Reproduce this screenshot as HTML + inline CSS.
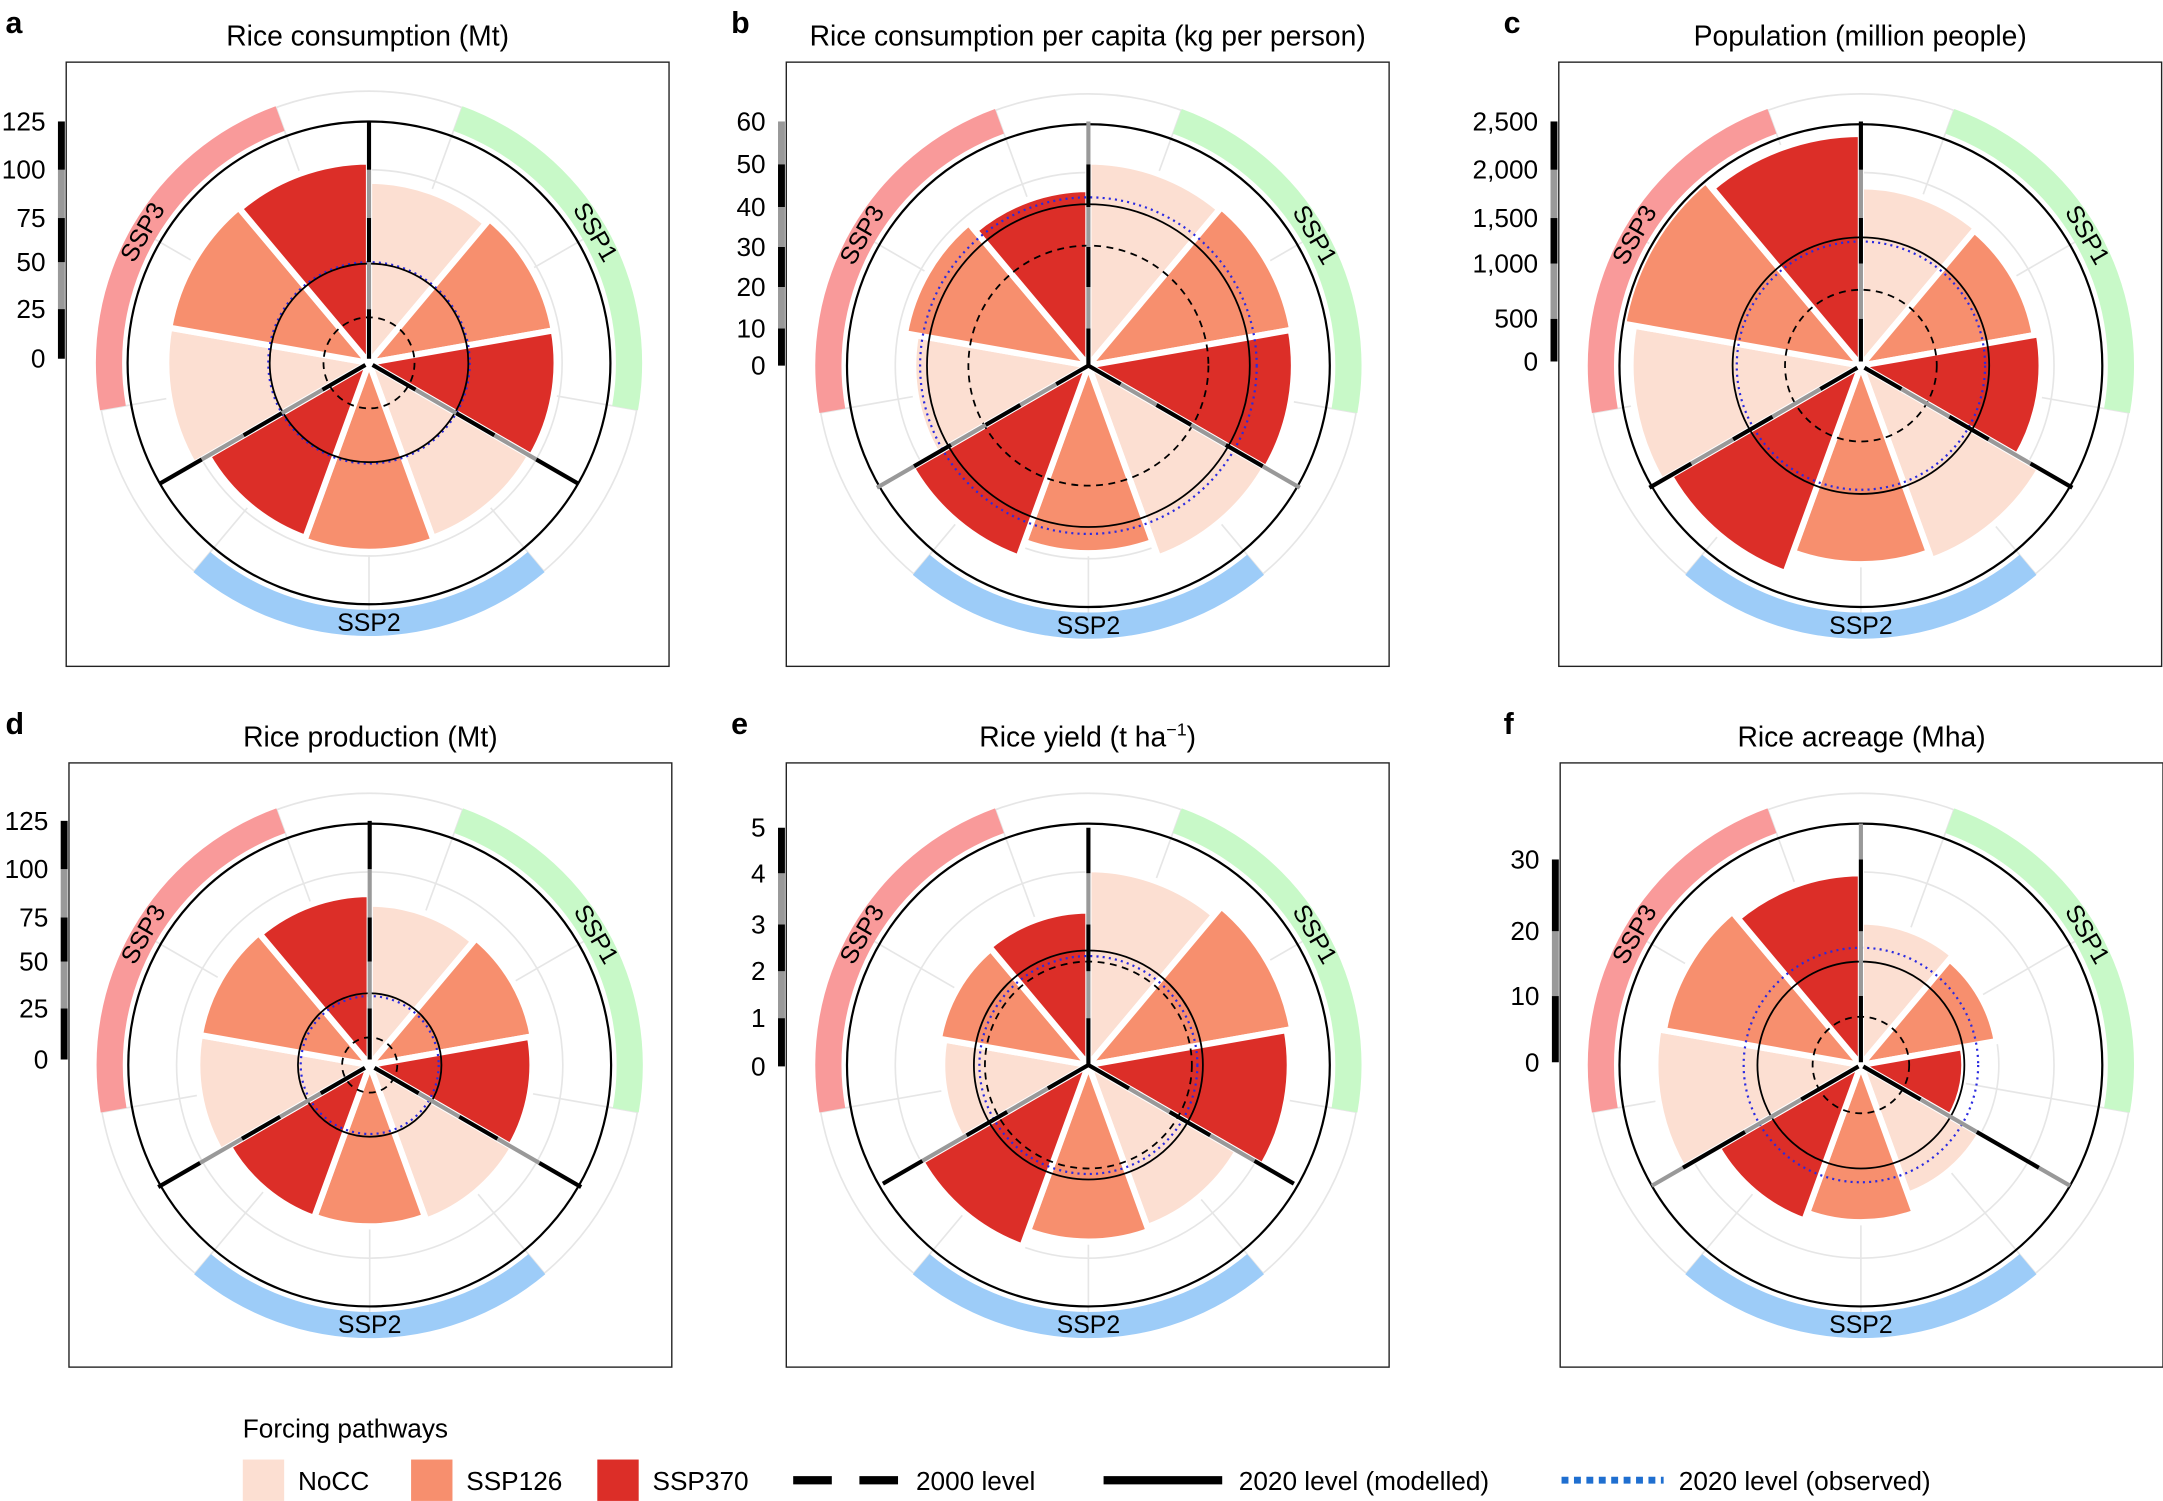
<!DOCTYPE html>
<html><head><meta charset="utf-8">
<style>
html,body{margin:0;padding:0;background:#fff;}
svg{display:block;font-family:"Liberation Sans",Arial,sans-serif;}
</style></head>
<body>
<svg id="s" width="2163" height="1501" viewBox="0 0 1568 1088" xmlns="http://www.w3.org/2000/svg"></svg>
<script>
const NS="http://www.w3.org/2000/svg";
const S=document.getElementById('s');
function el(tag,attrs,txt,parent){const e=document.createElementNS(NS,tag);for(const k in attrs)e.setAttribute(k,attrs[k]);if(txt!==undefined&&txt!==null)e.textContent=txt;(parent||S).appendChild(e);return e;}
function P(cx,cy,r,a){const t=a*Math.PI/180;return [cx+r*Math.sin(t),cy-r*Math.cos(t)];}
function sector(cx,cy,r,a1,a2){const p1=P(cx,cy,r,a1),p2=P(cx,cy,r,a2);return `M${cx},${cy}L${p1[0]},${p1[1]}A${r},${r} 0 0 1 ${p2[0]},${p2[1]}Z`;}
function ring(cx,cy,r1,r2,a1,a2){const a=P(cx,cy,r2,a1),b=P(cx,cy,r2,a2),c=P(cx,cy,r1,a2),d=P(cx,cy,r1,a1);return `M${a}A${r2},${r2} 0 0 1 ${b}L${c}A${r1},${r1} 0 0 0 ${d}Z`;}
const C=['#fcdfd2','#f78f6e','#dc2e28'];
const panels=[
 {L:'a',T:'Rice consumption (Mt)',bx:48,by:45,cx:267.5,cy:263,dash:33,sol:72,dot:73,
  bars:[132,136,136,135,137,135,147,147,146],labs:[['0',260],['25',224],['50',190],['75',158],['100',123],['125',88]]},
 {L:'b',T:'Rice consumption per capita (kg per person)',bx:570,by:45,cx:789,cy:265,dash:87,sol:117,dot:122,
  bars:[148,150,149,148,136,148,127,135,128],labs:[['0',265],['10',238],['20',208],['30',179],['40',150],['50',119],['60',88]]},
 {L:'c',T:'Population (million people)',bx:1130,by:45,cx:1349,cy:265,dash:55,sol:93,dot:90,
  bars:[130,128,131,150,144,160,167,175,168],labs:[['0',262],['500',231],['1,000',191],['1,500',158],['2,000',123],['2,500',88]]},
 {L:'d',T:'Rice production (Mt)',bx:50,by:553,cx:268,cy:772,dash:20,sol:52,dot:50,
  bars:[117,120,118,120,117,118,125,125,124],labs:[['0',768],['25',731],['50',697],['75',665],['100',630],['125',595]]},
 {L:'e',T:'Rice yield (t ha',sup:true,bx:570,by:553,cx:789,cy:772,dash:75,sol:83,dot:79,
  bars:[142,150,146,125,128,140,106,110,112],labs:[['0',773],['1',738],['2',704],['3',670],['4',633],['5',600]]},
 {L:'f',T:'Rice acreage (Mha)',bx:1131,by:553,cx:1349,cy:772,dash:35,sol:75,dot:85,
  bars:[104,100,75,100,114,120,149,145,139],labs:[['0',770],['10',722],['20',675],['30',623]]}
];
const bands=[['SSP1','#c8f9c8',60],['SSP2','#9dccf8',180],['SSP3','#f99a9a',300]];
for(const p of panels){
 const {cx,cy}=p;
 el('rect',{x:p.bx,y:p.by,width:437,height:438,fill:'none',stroke:'#222','stroke-width':1});
 el('text',{x:p.L=='a'||p.L=='d'?4:(p.L=='b'||p.L=='e'?530:1090),y:p.by-21,'font-size':22,'font-weight':'bold'},p.L);
 const t=el('text',{x:p.bx+218.5,y:p.by-12,'font-size':20.5,'text-anchor':'middle'},p.T);
 if(p.sup){el('tspan',{dy:-8,'font-size':13},'−1',t);el('tspan',{dy:8},')',t);}
 for(const r of [60,100,140,197]) el('circle',{cx,cy,r,fill:'none',stroke:'#e6e6e6','stroke-width':1.2});
 for(let a=20;a<360;a+=40){const q=P(cx,cy,197,a);el('line',{x1:cx,y1:cy,x2:q[0],y2:q[1],stroke:'#e6e6e6','stroke-width':1.2});}
 for(const b of bands){
  el('path',{d:ring(cx,cy,179,198,b[2]-40,b[2]+40),fill:b[1]});
  const q=P(cx,cy,189,b[2]);const rot=b[2]==180?0:(b[2]==60?60:-60);
  el('text',{x:q[0],y:q[1],'font-size':18,'text-anchor':'middle','dominant-baseline':'central',transform:`rotate(${rot} ${q[0]} ${q[1]})`},b[0]);
 }
 p.bars.forEach((r,i)=>{el('path',{d:sector(cx,cy,r,i*40,i*40+40),fill:C[i%3],stroke:'#fff','stroke-width':4.5,'stroke-linejoin':'miter'});});
 el('circle',{cx,cy,r:p.dot,fill:'none',stroke:'#2a2ae0','stroke-width':1.6,'stroke-dasharray':'1.5 3'});
 el('circle',{cx,cy,r:p.sol,fill:'none',stroke:'#000','stroke-width':1.3});
 el('circle',{cx,cy,r:p.dash,fill:'none',stroke:'#000','stroke-width':1.3,'stroke-dasharray':'5 4'});
 el('circle',{cx,cy,r:175,fill:'none',stroke:'#000','stroke-width':1.6});
 const labs=p.labs;
 const n=labs.length-1;
 for(let i=0;i<n;i++){
  const r1=Math.max(0,cy-labs[i][1]), r2=cy-labs[i+1][1];
  const col=i%2==0?'#000':'#999';
  for(const a of [0,120,240]){const A=P(cx,cy,r1,a),B=P(cx,cy,r2,a);el('line',{x1:A[0],y1:A[1],x2:B[0],y2:B[1],stroke:col,'stroke-width':3});}
  el('rect',{x:p.bx-6,y:labs[i+1][1],width:5,height:labs[i][1]-labs[i+1][1],fill:col});
 }
 const rl=cy-labs[n][1];
 if(rl<170){const col=n%2==0?'#000':'#999';for(const a of [0,120,240]){const A=P(cx,cy,rl,a),B=P(cx,cy,175,a);el('line',{x1:A[0],y1:A[1],x2:B[0],y2:B[1],stroke:col,'stroke-width':3});}}
 for(const l of labs) el('text',{x:p.bx-15,y:l[1],'font-size':19,'text-anchor':'end','dominant-baseline':'central'},l[0]);
}
el('text',{x:176,y:1042,'font-size':19},'Forcing pathways');
const lg=[[176,C[0],'NoCC'],[298,C[1],'SSP126'],[433,C[2],'SSP370']];
for(const l of lg){el('rect',{x:l[0],y:1058,width:30,height:30,fill:l[1]});el('text',{x:l[0]+40,y:1080,'font-size':19},l[2]);}
el('line',{x1:575,y1:1073,x2:655,y2:1073,stroke:'#000','stroke-width':6,'stroke-dasharray':'28 20'});
el('text',{x:664,y:1080,'font-size':19},'2000 level');
el('line',{x1:800,y1:1073,x2:886,y2:1073,stroke:'#000','stroke-width':6});
el('text',{x:898,y:1080,'font-size':19},'2020 level (modelled)');
el('line',{x1:1132,y1:1073,x2:1206,y2:1073,stroke:'#1f6fd0','stroke-width':5,'stroke-dasharray':'5 4'});
el('text',{x:1217,y:1080,'font-size':19},'2020 level (observed)');
</script>
</body></html>
